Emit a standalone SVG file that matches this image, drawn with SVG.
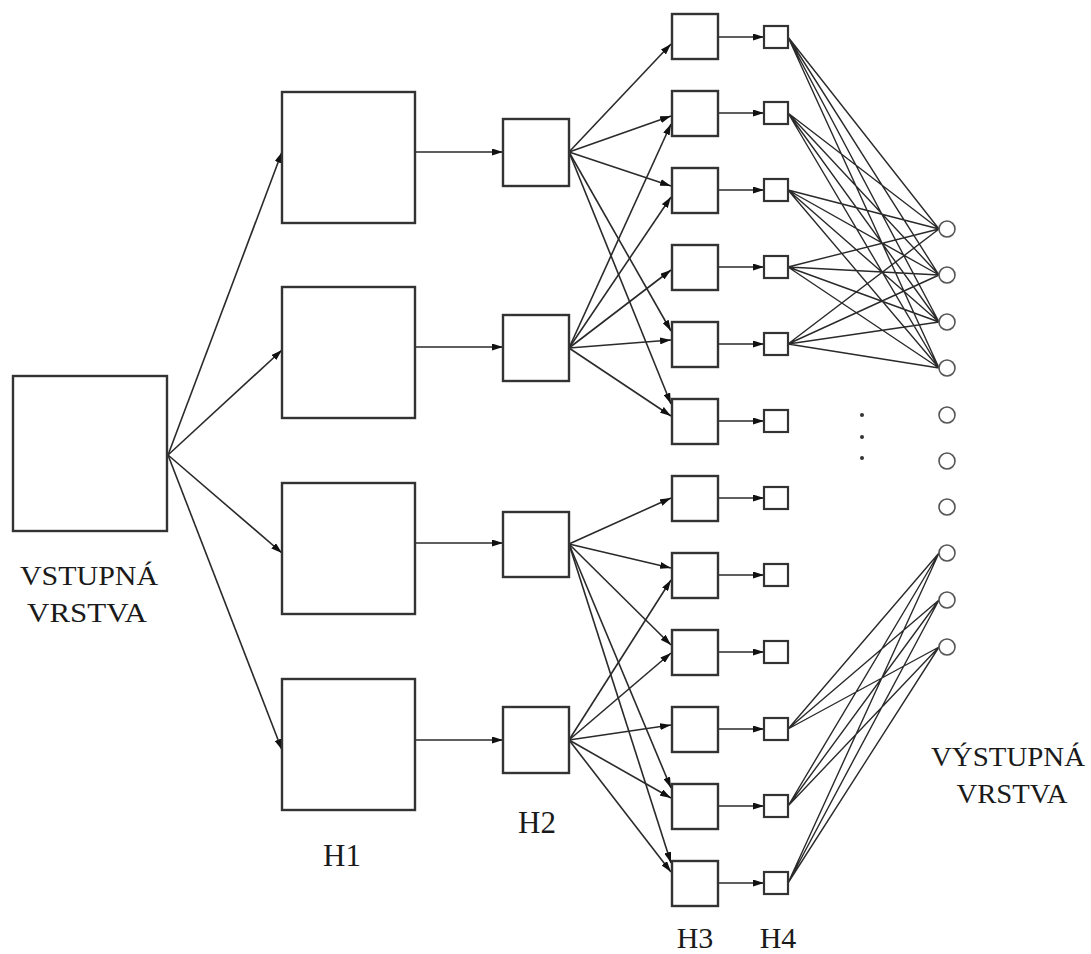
<svg xmlns="http://www.w3.org/2000/svg" width="1091" height="954" viewBox="0 0 1091 954">
<defs>
<marker id="ah" viewBox="0 0 11 7" refX="11" refY="3.5" markerWidth="11" markerHeight="7" markerUnits="userSpaceOnUse" orient="auto">
<path d="M0,0 L11,3.5 L0,7 z" fill="#111"/>
</marker>
<style>
.box{fill:#fff;stroke:#333;stroke-width:2.4}
.sm{fill:#fff;stroke:#333;stroke-width:2.2}
.out{fill:#fff;stroke:#555;stroke-width:1.6}
.a{stroke:#2a2a2a;stroke-width:1.6;fill:none;marker-end:url(#ah)}
.l{stroke:#2a2a2a;stroke-width:1.4;fill:none}
.lbl{font-family:"Liberation Serif",serif;fill:#1a1a1a}
</style>
</defs>
<rect width="1091" height="954" fill="#fff"/>
<g id="connectors">
<line class="a" x1="168" y1="455" x2="282" y2="152"/>
<line class="a" x1="168" y1="455" x2="282" y2="350"/>
<line class="a" x1="168" y1="455" x2="282" y2="553"/>
<line class="a" x1="168" y1="455" x2="282" y2="750"/>
<line class="a" x1="415" y1="152" x2="503" y2="152"/>
<line class="a" x1="415" y1="347" x2="503" y2="347"/>
<line class="a" x1="415" y1="543" x2="503" y2="543"/>
<line class="a" x1="415" y1="740" x2="503" y2="740"/>
<line class="a" x1="569" y1="152" x2="671" y2="44"/>
<line class="a" x1="569" y1="152" x2="671" y2="116"/>
<line class="a" x1="569" y1="152" x2="671" y2="186"/>
<line class="a" x1="569" y1="152" x2="671" y2="331"/>
<line class="a" x1="569" y1="152" x2="671" y2="404"/>
<line class="a" x1="569" y1="348" x2="671" y2="124"/>
<line class="a" x1="569" y1="348" x2="671" y2="197"/>
<line class="a" x1="569" y1="348" x2="671" y2="270"/>
<line class="a" x1="569" y1="348" x2="671" y2="340"/>
<line class="a" x1="569" y1="348" x2="671" y2="416"/>
<line class="a" x1="569" y1="544" x2="671" y2="498"/>
<line class="a" x1="569" y1="544" x2="671" y2="568"/>
<line class="a" x1="569" y1="544" x2="671" y2="645"/>
<line class="a" x1="569" y1="544" x2="671" y2="788"/>
<line class="a" x1="569" y1="544" x2="671" y2="863"/>
<line class="a" x1="569" y1="740" x2="671" y2="580"/>
<line class="a" x1="569" y1="740" x2="671" y2="653"/>
<line class="a" x1="569" y1="740" x2="671" y2="725"/>
<line class="a" x1="569" y1="740" x2="671" y2="798"/>
<line class="a" x1="569" y1="740" x2="671" y2="872"/>
<line class="a" x1="718" y1="37" x2="764" y2="37"/>
<line class="a" x1="718" y1="113" x2="764" y2="113"/>
<line class="a" x1="718" y1="190" x2="764" y2="190"/>
<line class="a" x1="718" y1="267" x2="764" y2="267"/>
<line class="a" x1="718" y1="344" x2="764" y2="344"/>
<line class="a" x1="718" y1="421" x2="764" y2="421"/>
<line class="a" x1="718" y1="498" x2="764" y2="498"/>
<line class="a" x1="718" y1="575" x2="764" y2="575"/>
<line class="a" x1="718" y1="652" x2="764" y2="652"/>
<line class="a" x1="718" y1="729" x2="764" y2="729"/>
<line class="a" x1="718" y1="806" x2="764" y2="806"/>
<line class="a" x1="718" y1="883" x2="764" y2="883"/>
<path class="l" d="M788,37 L939,229 M788,37 L939,275 M788,37 L939,322 M788,37 L939,368
M788,113 L939,229 M788,113 L939,275 M788,113 L939,322 M788,113 L939,368
M788,190 L939,229 M788,190 L939,275 M788,190 L939,322 M788,190 L939,368
M788,267 L939,229 M788,267 L939,275 M788,267 L939,322 M788,267 L939,368
M788,344 L939,229 M788,344 L939,275 M788,344 L939,322 M788,344 L939,368"/>
<path class="l" d="M788,729 L939,553 M788,729 L939,600 M788,729 L939,647
M788,806 L939,553 M788,806 L939,600 M788,806 L939,647
M788,883 L939,553 M788,883 L939,600 M788,883 L939,647"/>
</g>
<g id="input"><rect class="box" x="13" y="376" width="154" height="155"/></g>
<g id="h1-1"><rect class="box" x="282" y="92" width="133" height="131"/></g>
<g id="h1-2"><rect class="box" x="282" y="287" width="133" height="131"/></g>
<g id="h1-3"><rect class="box" x="282" y="483" width="133" height="131"/></g>
<g id="h1-4"><rect class="box" x="282" y="679" width="133" height="131"/></g>
<g id="h2-1"><rect class="box" x="503" y="119" width="66" height="67"/></g>
<g id="h2-2"><rect class="box" x="503" y="315" width="66" height="66"/></g>
<g id="h2-3"><rect class="box" x="503" y="512" width="66" height="65"/></g>
<g id="h2-4"><rect class="box" x="503" y="707" width="66" height="66"/></g>
<g id="h3-1"><rect class="box" x="672" y="14" width="46" height="45"/></g>
<g id="h3-2"><rect class="box" x="672" y="91" width="46" height="45"/></g>
<g id="h3-3"><rect class="box" x="672" y="168" width="46" height="45"/></g>
<g id="h3-4"><rect class="box" x="672" y="245" width="46" height="45"/></g>
<g id="h3-5"><rect class="box" x="672" y="322" width="46" height="45"/></g>
<g id="h3-6"><rect class="box" x="672" y="399" width="46" height="45"/></g>
<g id="h3-7"><rect class="box" x="672" y="476" width="46" height="45"/></g>
<g id="h3-8"><rect class="box" x="672" y="553" width="46" height="45"/></g>
<g id="h3-9"><rect class="box" x="672" y="630" width="46" height="45"/></g>
<g id="h3-10"><rect class="box" x="672" y="707" width="46" height="45"/></g>
<g id="h3-11"><rect class="box" x="672" y="784" width="46" height="45"/></g>
<g id="h3-12"><rect class="box" x="672" y="861" width="46" height="45"/></g>
<g id="h4-1"><rect class="sm" x="764" y="26" width="24" height="22"/></g>
<g id="h4-2"><rect class="sm" x="764" y="102" width="24" height="22"/></g>
<g id="h4-3"><rect class="sm" x="764" y="179" width="24" height="22"/></g>
<g id="h4-4"><rect class="sm" x="764" y="256" width="24" height="22"/></g>
<g id="h4-5"><rect class="sm" x="764" y="333" width="24" height="22"/></g>
<g id="h4-6"><rect class="sm" x="764" y="410" width="24" height="22"/></g>
<g id="h4-7"><rect class="sm" x="764" y="487" width="24" height="22"/></g>
<g id="h4-8"><rect class="sm" x="764" y="564" width="24" height="22"/></g>
<g id="h4-9"><rect class="sm" x="764" y="641" width="24" height="22"/></g>
<g id="h4-10"><rect class="sm" x="764" y="718" width="24" height="22"/></g>
<g id="h4-11"><rect class="sm" x="764" y="795" width="24" height="22"/></g>
<g id="h4-12"><rect class="sm" x="764" y="872" width="24" height="22"/></g>
<g id="outputs">
<circle class="out" cx="947" cy="229" r="8"/>
<circle class="out" cx="947" cy="275" r="8"/>
<circle class="out" cx="947" cy="322" r="8"/>
<circle class="out" cx="947" cy="368" r="8"/>
<circle class="out" cx="947" cy="415" r="8"/>
<circle class="out" cx="947" cy="461" r="8"/>
<circle class="out" cx="947" cy="507" r="8"/>
<circle class="out" cx="947" cy="553" r="8"/>
<circle class="out" cx="947" cy="600" r="8"/>
<circle class="out" cx="947" cy="647" r="8"/>
</g>
<g id="ellipsis" fill="#333">
<circle cx="862" cy="415" r="2"/>
<circle cx="862" cy="437" r="2"/>
<circle cx="862" cy="458" r="2"/>
</g>
<g id="labels" class="lbl">
<text x="89" y="585" font-size="27" text-anchor="middle" textLength="138" lengthAdjust="spacingAndGlyphs">VSTUPNÁ</text>
<text x="87" y="622" font-size="27" text-anchor="middle" textLength="120" lengthAdjust="spacingAndGlyphs">VRSTVA</text>
<text x="1008" y="766" font-size="27" text-anchor="middle" textLength="154" lengthAdjust="spacingAndGlyphs">VÝSTUPNÁ</text>
<text x="1012" y="803" font-size="27" text-anchor="middle" textLength="111" lengthAdjust="spacingAndGlyphs">VRSTVA</text>
<text x="342" y="866" font-size="31" text-anchor="middle">H1</text>
<text x="537" y="833" font-size="31" text-anchor="middle">H2</text>
<text x="695" y="948" font-size="30" text-anchor="middle">H3</text>
<text x="778" y="948" font-size="30" text-anchor="middle">H4</text>
</g>
</svg>
